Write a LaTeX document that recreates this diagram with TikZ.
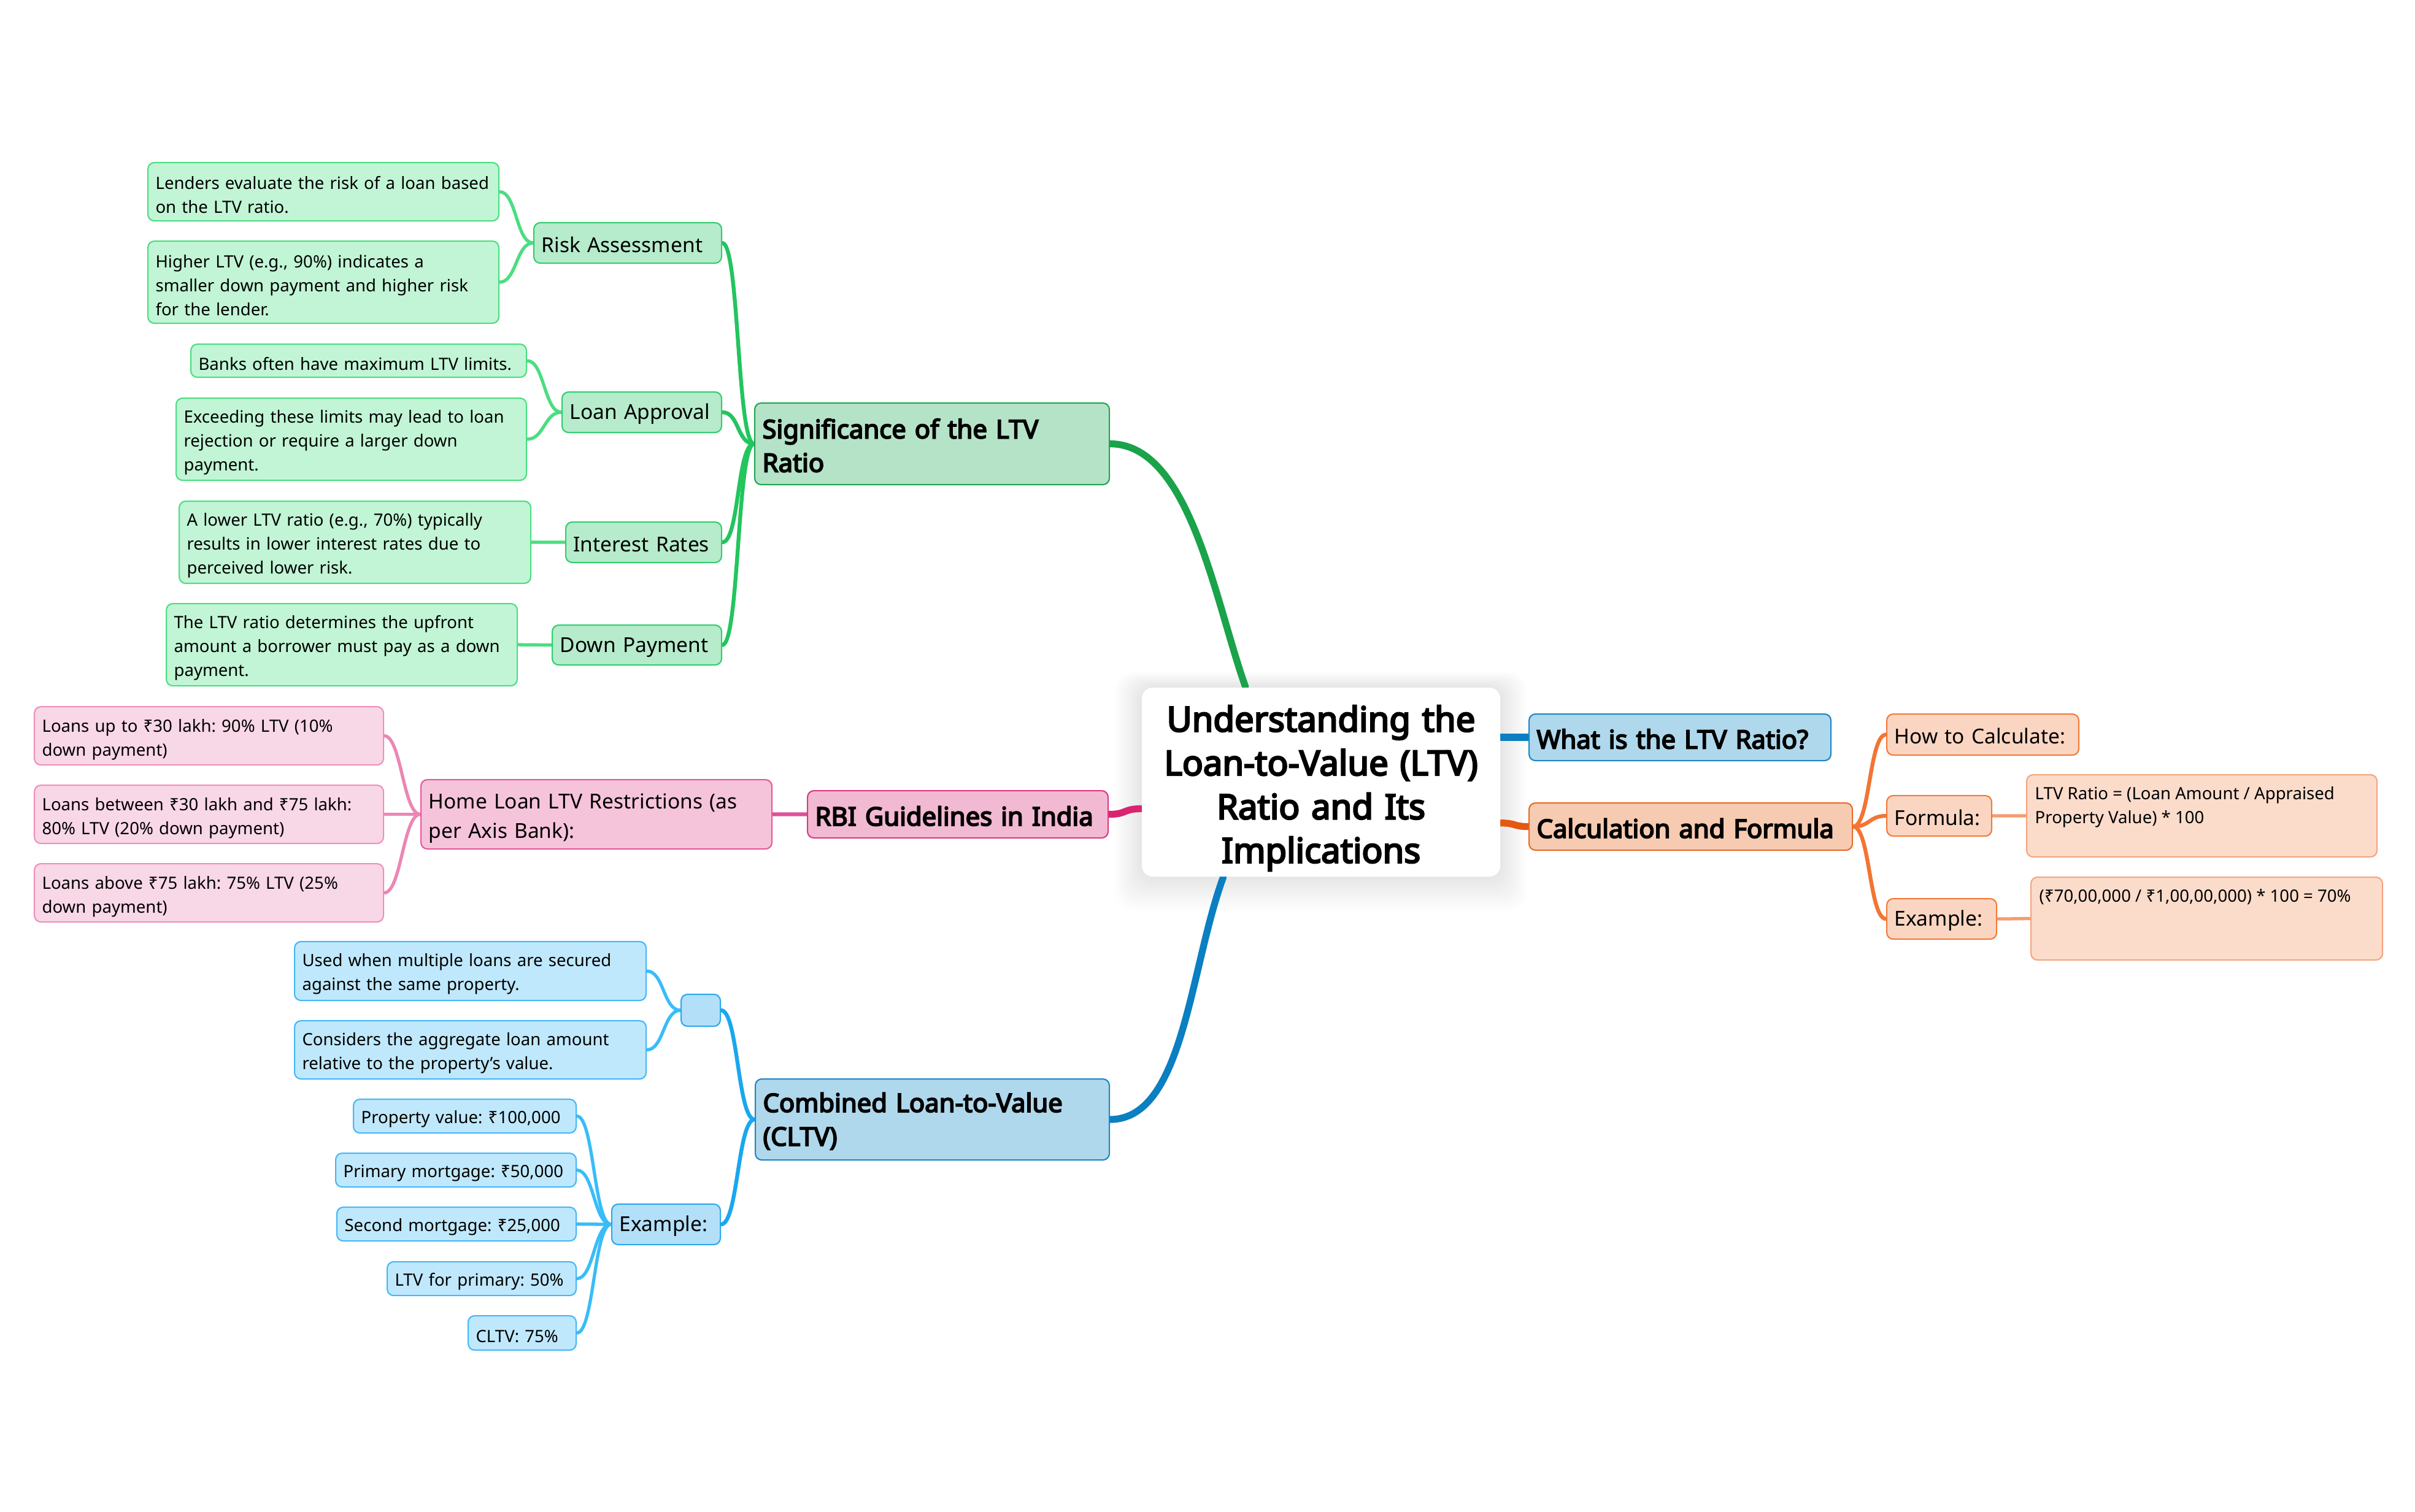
\documentclass[tikz,border=0pt]{standalone}
\usepackage{fontspec}
\setmainfont{Noto Sans}
\newfontfamily\heavy{Noto Sans}[FakeBold=4.5]
\frenchspacing
\usetikzlibrary{calc}
\pgfdeclarelayer{paper}
\pgfdeclarelayer{shadowlayer}
\pgfdeclarelayer{bg}
\pgfsetlayers{paper,shadowlayer,bg,main}

\definecolor{gA}{HTML}{1AA34A}\definecolor{gAf}{HTML}{B5E3C7}\definecolor{gAd}{HTML}{1FA650}
\definecolor{gB}{HTML}{22C55E}\definecolor{gBf}{HTML}{B6EBCB}\definecolor{gBd}{HTML}{2FCF6E}
\definecolor{gC}{HTML}{4ADE80}\definecolor{gCf}{HTML}{C1F5D5}\definecolor{gCd}{HTML}{4ADE80}
\definecolor{bA}{HTML}{0A7FC2}\definecolor{bAf}{HTML}{AFD8EC}\definecolor{bAd}{HTML}{1C87C6}
\definecolor{bB}{HTML}{1AA7EE}\definecolor{bBf}{HTML}{B3E0F8}\definecolor{bBd}{HTML}{2AA8EE}
\definecolor{bC}{HTML}{38BDF8}\definecolor{bCf}{HTML}{BFE8FC}\definecolor{bCd}{HTML}{44B8F6}
\definecolor{oA}{HTML}{E4580F}\definecolor{oAf}{HTML}{F7CBB1}\definecolor{oAd}{HTML}{E86A25}
\definecolor{oB}{HTML}{F37533}\definecolor{oBf}{HTML}{FAD6C2}\definecolor{oBd}{HTML}{F47A38}
\definecolor{oC}{HTML}{F69B70}\definecolor{oCf}{HTML}{FBDCCB}\definecolor{oCd}{HTML}{F6A47E}
\definecolor{pA}{HTML}{D9256F}\definecolor{pAf}{HTML}{F2B9D2}\definecolor{pAd}{HTML}{DD3A80}
\definecolor{pB}{HTML}{E0509A}\definecolor{pBf}{HTML}{F5C4DA}\definecolor{pBd}{HTML}{E6579C}
\definecolor{pC}{HTML}{EC86B5}\definecolor{pCf}{HTML}{F8D7E6}\definecolor{pCd}{HTML}{EF8FBB}

\newcommand\fleaf{\fontsize{7.85}{11.1}\selectfont}
\newcommand\flev{\fontsize{9.55}{13.7}\selectfont}
\newcommand\fmain{\heavy\fontsize{11.9}{15.6}\selectfont}
\newcommand\fcent{\heavy\fontsize{16}{20.3}\selectfont}
\newcommand\lift[1]{\rule{0pt}{#1}}

% box: name, style, x0, y0, x1, y1 (pixels), text
\newcommand\bx[7]{%
  \pgfmathsetmacro\bw{(#5-#3)/100}%
  \pgfmathsetmacro\bh{(#6-#4)/100}%
  \pgfmathsetmacro\tw{(#5-#3)/100-0.25}%
  \node[#2, minimum width=\bw cm, minimum height=\bh cm, text width=\tw cm] (#1) at (#3/100,-#4/100) {#7};}

% left link: parent west to child east
\newcommand\lk[3]{\draw[#1] (#2.west) .. controls +(-0.28,0) and +(0.28,0) .. (#3.east);}
% right link: parent east to child west
\newcommand\rk[3]{\draw[#1] (#2.east) .. controls +(0.28,0) and +(-0.28,0) .. (#3.west);}

\tikzset{
  bxs/.style={draw, rounded corners=3pt, anchor=north west, line width=0.6pt,
    inner xsep=0.125cm, inner ysep=0pt, align=left, text=black},
  centre/.style={bxs, draw=none, fill=white, rounded corners=5pt, align=center, font=\fcent},
  mainS/.style={bxs, font=\fmain, execute at begin node={\lift{10.6pt}}},
  levS/.style={bxs, font=\flev, execute at begin node={\lift{8.9pt}}},
  leafS/.style={bxs, font=\fleaf, execute at begin node={\lift{8.7pt}}},
  mainG/.style={mainS, fill=gAf, draw=gAd},
  levG/.style={levS, fill=gBf, draw=gBd},
  leafG/.style={leafS, fill=gCf, draw=gCd},
  mainB/.style={mainS, fill=bAf, draw=bAd},
  levB/.style={levS, fill=bBf, draw=bBd},
  leafB/.style={leafS, fill=bCf, draw=bCd},
  mainO/.style={mainS, fill=oAf, draw=oAd},
  levO/.style={levS, fill=oBf, draw=oBd},
  leafO/.style={leafS, fill=oCf, draw=oCd},
  mainP/.style={mainS, fill=pAf, draw=pAd},
  levP/.style={levS, fill=pBf, draw=pBd},
  leafP/.style={leafS, fill=pCf, draw=pCd},
  lA/.style={line width=3.2pt, line cap=round},
  lB/.style={line width=1.8pt, line cap=round},
  lC/.style={line width=1.5pt, line cap=round},
}

\begin{document}
\begin{tikzpicture}
\begin{pgfonlayer}{paper}
\fill[white] (0,0) rectangle (39.36,-24.64);
\end{pgfonlayer}
\useasboundingbox (0,0) rectangle (39.36,-24.64);

% centre
\bx{center}{centre}{1860}{1120}{2444}{1428}{\lift{17.8pt}Understanding the\\Loan-to-Value (LTV)\\Ratio and Its\\Implications}

% right side
\bx{what}{mainB}{2491}{1163}{2983}{1239}{What is the LTV Ratio?}
\bx{calc}{mainO}{2491}{1308}{3018}{1385}{Calculation and Formula}
\bx{howcalc}{levO}{3074}{1163}{3387}{1230}{How to Calculate:}
\bx{formula}{levO}{3074}{1296}{3245}{1362}{Formula:}
\bx{example}{levO}{3074}{1464}{3253}{1530}{Example:}
\bx{formtext}{leafO}{3302}{1262}{3873}{1396}{}
\node[anchor=north west, font=\fleaf, align=left, inner sep=0pt] (formtextT) at ($(formtext.north west)+(0.14,-0.2)$) {LTV Ratio = (Loan Amount / Appraised\\Property Value) * 100};
\bx{extext}{leafO}{3309}{1429}{3882}{1564}{}
\node[anchor=north west, font=\fleaf, align=left, inner sep=0pt] (extextT) at ($(extext.north west)+(0.14,-0.2)$) {(₹70,00,000 / ₹1,00,00,000) * 100 = 70\%};

% significance
\bx{sig}{mainG}{1229}{656}{1807}{789}{Significance of the LTV\\Ratio}
\bx{risk}{levG}{869}{362}{1175}{428}{Risk Assessment}
\bx{lenders}{leafG}{240}{264}{812}{359}{Lenders evaluate the risk of a loan based\\on the LTV ratio.}
\bx{higher}{leafG}{240}{392}{812}{526}{Higher LTV (e.g., 90\%) indicates a\\smaller down payment and higher risk\\for the lender.}
\bx{loanapp}{levG}{915}{638}{1175}{704}{Loan Approval}
\bx{banks}{leafG}{310}{560}{857}{614}{Banks often have maximum LTV limits.}
\bx{exceed}{leafG}{286}{648}{857}{782}{Exceeding these limits may lead to loan\\rejection or require a larger down\\payment.}
\bx{interest}{levG}{921}{850}{1175}{916}{Interest Rates}
\bx{lower}{leafG}{291}{816}{864}{950}{A lower LTV ratio (e.g., 70\%) typically\\results in lower interest rates due to\\perceived lower risk.}
\bx{down}{levG}{899}{1018}{1175}{1083}{Down Payment}
\bx{ltvdet}{leafG}{270}{983}{842}{1117}{The LTV ratio determines the upfront\\amount a borrower must pay as a down\\payment.}

% RBI
\bx{rbi}{mainP}{1315}{1288}{1805}{1365}{RBI Guidelines in India}
\bx{home}{levP}{685}{1270}{1257}{1383}{\lift{10.6pt}Home Loan LTV Restrictions (as\\per Axis Bank):}
\bx{upto}{leafP}{55}{1151}{624}{1246}{\lift{9.5pt}Loans up to ₹30 lakh: 90\% LTV (10\%\\down payment)}
\bx{between}{leafP}{55}{1279}{624}{1374}{\lift{9.5pt}Loans between ₹30 lakh and ₹75 lakh:\\80\% LTV (20\% down payment)}
\bx{above}{leafP}{55}{1407}{624}{1502}{\lift{9.5pt}Loans above ₹75 lakh: 75\% LTV (25\%\\down payment)}

% CLTV
\bx{cltv}{mainB}{1230}{1758}{1807}{1890}{Combined Loan-to-Value\\(CLTV)}
\bx{blank}{levB}{1109}{1620}{1173}{1672}{}
\bx{used}{leafB}{479}{1534}{1052}{1630}{Used when multiple loans are secured\\against the same property.}
\bx{considers}{leafB}{479}{1663}{1052}{1758}{Considers the aggregate loan amount\\relative to the property’s value.}
\bx{example2}{levB}{996}{1962}{1173}{2028}{Example:}
\bx{prop}{leafB}{575}{1791}{938}{1846}{Property value: ₹100,000}
\bx{prim}{leafB}{546}{1879}{938}{1934}{Primary mortgage: ₹50,000}
\bx{second}{leafB}{548}{1967}{938}{2022}{Second mortgage: ₹25,000}
\bx{ltvprim}{leafB}{630}{2056}{938}{2111}{LTV for primary: 50\%}
\bx{cltvs}{leafB}{762}{2144}{938}{2200}{CLTV: 75\%}

% shadow of centre
\begin{pgfonlayer}{shadowlayer}
\foreach \i in {1,...,12}
  \fill[black, opacity=0.006, rounded corners=8pt]
    ($(center.north west)+(-\i*0.035,\i*0.02)$) rectangle ($(center.south east)+(\i*0.035,-\i*0.045)$);
\end{pgfonlayer}

\begin{pgfonlayer}{bg}
% main branches
\draw[lA, gA] (sig.east) .. controls +(1.3,0) and +(-0.5,1.4) .. ($(center.north west)!0.29!(center.north east)$);
\draw[lA, bA] (cltv.east) .. controls +(1.2,0) and +(-0.55,-1.5) .. ($(center.south west)!0.228!(center.south east)$);
\draw[lA, pA] (rbi.east) .. controls +(0.3,0) and +(-0.3,0) .. ($(center.north west)!0.64!(center.south west)$);
\draw[lA, bA] (what.west) -- (what.west -| center.east);
\draw[lA, oA] (calc.west) .. controls +(-0.25,0) and +(0.25,0) .. ($(center.north east)!0.715!(center.south east)$);

% significance
\lk{lB, gB}{sig}{risk}
\lk{lB, gB}{sig}{loanapp}
\lk{lB, gB}{sig}{interest}
\lk{lB, gB}{sig}{down}
\lk{lC, gC}{risk}{lenders}
\lk{lC, gC}{risk}{higher}
\lk{lC, gC}{loanapp}{banks}
\lk{lC, gC}{loanapp}{exceed}
\lk{lC, gC}{interest}{lower}
\lk{lC, gC}{down}{ltvdet}

% RBI
\lk{lB, pB}{rbi}{home}
\lk{lC, pC}{home}{upto}
\lk{lC, pC}{home}{between}
\lk{lC, pC}{home}{above}

% CLTV
\lk{lB, bB}{cltv}{blank}
\lk{lB, bB}{cltv}{example2}
\lk{lC, bC}{blank}{used}
\lk{lC, bC}{blank}{considers}
\lk{lC, bC}{example2}{prop}
\lk{lC, bC}{example2}{prim}
\lk{lC, bC}{example2}{second}
\lk{lC, bC}{example2}{ltvprim}
\lk{lC, bC}{example2}{cltvs}

% calculation
\rk{lB, oB}{calc}{howcalc}
\rk{lB, oB}{calc}{formula}
\rk{lB, oB}{calc}{example}
\rk{lC, oC}{formula}{formtext}
\rk{lC, oC}{example}{extext}
\end{pgfonlayer}
\end{tikzpicture}
\end{document}
